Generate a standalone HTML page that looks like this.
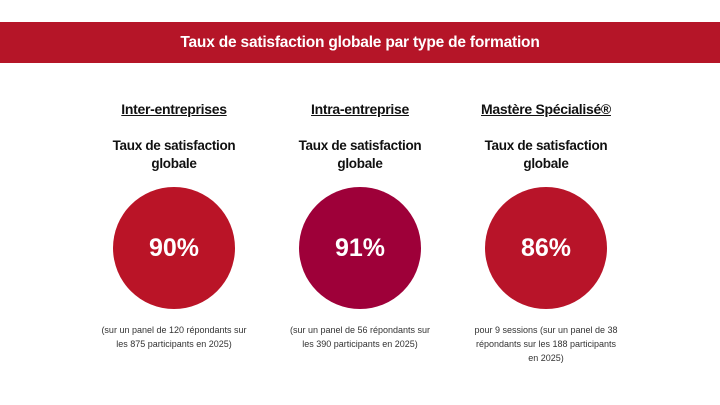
<!DOCTYPE html>
<html><head><meta charset="utf-8"><style>
body{margin:0;width:720px;height:405px;background:#fff;position:relative;font-family:"Liberation Sans",sans-serif;overflow:hidden}
.banner{position:absolute;left:0;top:22px;width:720px;height:41px;background:#B51528;color:#fff;font-weight:bold;font-size:15.5px;text-align:center;line-height:41px;letter-spacing:-0.2px}
.col{position:absolute;width:186px;text-align:center;color:#111}
.h{position:absolute;top:101px;width:100%;font-weight:bold;font-size:14px;text-decoration:underline;letter-spacing:-0.3px}
.s{position:absolute;top:137px;width:100%;font-weight:bold;font-size:13.5px;line-height:18px;letter-spacing:-0.3px}
.c{position:absolute;top:187px;left:32px;width:122px;height:122px;border-radius:50%;color:#fff;font-weight:bold;font-size:25px;line-height:122px}
.n{position:absolute;top:323px;width:100%;font-size:9px;line-height:14px;color:#333}
</style></head><body>
<div class="banner">Taux de satisfaction globale par type de formation</div>
<div class="col" style="left:81px">
<div class="h">Inter-entreprises</div>
<div class="s">Taux de satisfaction<br>globale</div>
<div class="c" style="background:#BA1427">90%</div>
<div class="n">(sur un panel de 120 répondants sur<br>les 875 participants en 2025)</div>
</div>
<div class="col" style="left:267px">
<div class="h">Intra-entreprise</div>
<div class="s">Taux de satisfaction<br>globale</div>
<div class="c" style="background:#9E0039">91%</div>
<div class="n">(sur un panel de 56 répondants sur<br>les 390 participants en 2025)</div>
</div>
<div class="col" style="left:453px">
<div class="h">Mastère Spécialisé®</div>
<div class="s">Taux de satisfaction<br>globale</div>
<div class="c" style="background:#B81429">86%</div>
<div class="n">pour 9 sessions (sur un panel de 38<br>répondants sur les 188 participants<br>en 2025)</div>
</div>
</body></html>
